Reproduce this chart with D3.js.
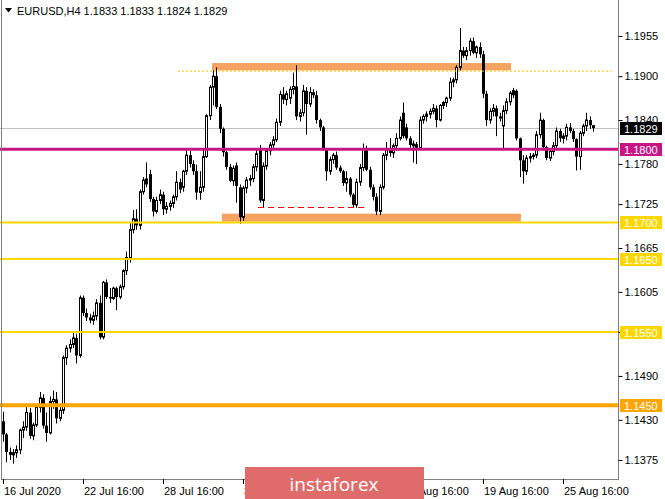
<!DOCTYPE html>
<html><head><meta charset="utf-8">
<script src="https://cdn.jsdelivr.net/npm/d3@7"></script>
<style>body{margin:0;background:#fff;} svg{display:block;font-family:"Liberation Sans",Arial,sans-serif;}</style>
</head><body><svg id="c" width="665" height="499"></svg>
<script>
const symbol = "EURUSD,H4";
const open = [
1.1428,1.1410,1.1386,1.1382,1.1385,1.1389,1.1416,1.1420,1.1440,1.1408,
1.1423,1.1447,1.1460,1.1422,1.1412,1.1455,1.1458,1.1432,1.1443,1.1515,
1.1528,1.1533,1.1542,1.1518,1.1597,1.1576,1.1570,1.1566,1.1572,1.1590,
1.1543,1.1618,1.1598,1.1596,1.1610,1.1598,1.1612,1.1634,1.1652,1.1690,
1.1705,1.1696,1.1742,1.1760,1.1766,1.1732,1.1715,1.1730,1.1738,1.1718,
1.1722,1.1726,1.1735,1.1755,1.1748,1.1770,1.1792,1.1780,1.1770,1.1741,
1.1748,1.1790,1.1846,1.1885,1.1900,1.1858,1.1828,1.1796,1.1776,1.1757,
1.1778,1.1748,1.1707,1.1747,1.1758,1.1760,1.1776,1.1800,1.1730,1.1777,
1.1798,1.1806,1.1813,1.1837,1.1875,1.1868,1.1870,1.1882,1.1886,1.1845,
1.1850,1.1880,1.1862,1.1878,1.1874,1.1840,1.1830,1.1800,1.1770,1.1786,
1.1792,1.1775,1.1770,1.1754,1.1760,1.1738,1.1724,1.1755,1.1775,1.1800,
1.1772,1.1748,1.1735,1.1715,1.1748,1.1792,1.1800,1.1795,1.1805,1.1815,
1.1850,1.1830,1.1815,1.1808,1.1807,1.1802,1.1840,1.1845,1.1848,1.1852,
1.1856,1.1840,1.1860,1.1864,1.1870,1.1892,1.1895,1.1912,1.1935,1.1928,
1.1935,1.1948,1.1932,1.1940,1.1930,1.1876,1.1840,1.1852,1.1856,1.1845,
1.1832,1.1853,1.1865,1.1881,1.1880,1.1815,1.1785,1.1770,1.1788,1.1790,
1.1792,1.1820,1.1840,1.1803,1.1788,1.1797,1.1805,1.1825,1.1815,1.1818,
1.1830,1.1825,1.1814,1.1790,1.1822,1.1832,1.1840,1.1833];
const high = [
1.1441,1.1412,1.1392,1.1390,1.1395,1.1418,1.1428,1.1450,1.1446,1.1426,
1.1450,1.1468,1.1465,1.1440,1.1462,1.1470,1.1468,1.1452,1.1518,1.1532,
1.1540,1.1550,1.1548,1.1600,1.1600,1.1582,1.1575,1.1578,1.1595,1.1600,
1.1620,1.1622,1.1610,1.1612,1.1612,1.1615,1.1636,1.1660,1.1700,1.1717,
1.1718,1.1745,1.1762,1.1782,1.1772,1.1735,1.1735,1.1745,1.1742,1.1728,
1.1730,1.1738,1.1770,1.1760,1.1772,1.1800,1.1798,1.1785,1.1779,1.1770,
1.1801,1.1848,1.1888,1.1908,1.1912,1.1862,1.1830,1.1798,1.1780,1.1778,
1.1782,1.1752,1.1750,1.1762,1.1765,1.1780,1.1800,1.1806,1.1782,1.1800,
1.1810,1.1818,1.1842,1.1880,1.1885,1.1880,1.1886,1.1905,1.1915,1.1855,
1.1888,1.1885,1.1885,1.1882,1.1880,1.1842,1.1832,1.1802,1.1790,1.1795,
1.1797,1.1778,1.1772,1.1770,1.1762,1.1740,1.1760,1.1780,1.1808,1.1805,
1.1776,1.1752,1.1740,1.1752,1.1795,1.1810,1.1815,1.1808,1.1822,1.1845,
1.1864,1.1835,1.1818,1.1812,1.1810,1.1845,1.1848,1.1852,1.1856,1.1862,
1.1860,1.1862,1.1866,1.1872,1.1898,1.1898,1.1915,1.1966,1.1940,1.1940,
1.1952,1.1953,1.1942,1.1946,1.1935,1.1880,1.1856,1.1862,1.1860,1.1850,
1.1860,1.1870,1.1880,1.1884,1.1882,1.1816,1.1792,1.1792,1.1795,1.1795,
1.1825,1.1850,1.1842,1.1805,1.1800,1.1810,1.1830,1.1828,1.1822,1.1835,
1.1836,1.1828,1.1815,1.1825,1.1835,1.1850,1.1845,1.1833];
const low = [
1.1400,1.1372,1.1375,1.1370,1.1378,1.1383,1.1405,1.1415,1.1404,1.1402,
1.1420,1.1440,1.1418,1.1400,1.1410,1.1445,1.1425,1.1428,1.1438,1.1505,
1.1522,1.1528,1.1507,1.1515,1.1572,1.1565,1.1562,1.1560,1.1566,1.1540,
1.1540,1.1595,1.1590,1.1594,1.1580,1.1595,1.1608,1.1628,1.1645,1.1685,
1.1690,1.1690,1.1738,1.1748,1.1728,1.1708,1.1712,1.1725,1.1710,1.1712,
1.1716,1.1720,1.1730,1.1740,1.1742,1.1765,1.1775,1.1765,1.1731,1.1731,
1.1742,1.1788,1.1840,1.1860,1.1855,1.1822,1.1790,1.1772,1.1755,1.1750,
1.1727,1.1698,1.1702,1.1740,1.1750,1.1755,1.1770,1.1727,1.1720,1.1772,
1.1792,1.1800,1.1810,1.1832,1.1862,1.1860,1.1862,1.1875,1.1840,1.1838,
1.1845,1.1820,1.1858,1.1870,1.1835,1.1825,1.1798,1.1757,1.1765,1.1780,
1.1772,1.1768,1.1750,1.1742,1.1735,1.1720,1.1720,1.1750,1.1770,1.1770,
1.1745,1.1730,1.1710,1.1710,1.1745,1.1785,1.1790,1.1788,1.1798,1.1812,
1.1815,1.1812,1.1802,1.1782,1.1780,1.1800,1.1835,1.1838,1.1842,1.1848,
1.1830,1.1838,1.1855,1.1858,1.1866,1.1885,1.1890,1.1908,1.1925,1.1922,
1.1928,1.1930,1.1925,1.1925,1.1870,1.1832,1.1835,1.1845,1.1818,1.1838,
1.1801,1.1848,1.1860,1.1870,1.1812,1.1762,1.1753,1.1765,1.1782,1.1786,
1.1788,1.1815,1.1800,1.1785,1.1784,1.1792,1.1800,1.1810,1.1808,1.1812,
1.1822,1.1810,1.1771,1.1772,1.1818,1.1825,1.1828,1.1824];
const close = [
1.1410,1.1386,1.1382,1.1385,1.1389,1.1416,1.1420,1.1440,1.1408,1.1423,
1.1447,1.1460,1.1422,1.1412,1.1455,1.1458,1.1432,1.1443,1.1515,1.1528,
1.1533,1.1542,1.1518,1.1597,1.1576,1.1570,1.1566,1.1572,1.1590,1.1543,
1.1618,1.1598,1.1596,1.1610,1.1598,1.1612,1.1634,1.1652,1.1690,1.1705,
1.1696,1.1742,1.1758,1.1752,1.1732,1.1715,1.1730,1.1738,1.1718,1.1722,
1.1726,1.1735,1.1755,1.1745,1.1770,1.1792,1.1780,1.1770,1.1741,1.1748,
1.1790,1.1846,1.1885,1.1900,1.1858,1.1828,1.1796,1.1776,1.1757,1.1774,
1.1750,1.1707,1.1747,1.1758,1.1760,1.1776,1.1794,1.1730,1.1777,1.1798,
1.1806,1.1813,1.1837,1.1875,1.1868,1.1876,1.1882,1.1886,1.1845,1.1850,
1.1880,1.1862,1.1878,1.1874,1.1840,1.1830,1.1800,1.1770,1.1786,1.1792,
1.1775,1.1770,1.1754,1.1760,1.1738,1.1724,1.1755,1.1775,1.1800,1.1772,
1.1748,1.1735,1.1715,1.1748,1.1792,1.1800,1.1795,1.1805,1.1815,1.1840,
1.1818,1.1815,1.1806,1.1804,1.1802,1.1840,1.1845,1.1848,1.1852,1.1856,
1.1840,1.1860,1.1864,1.1870,1.1892,1.1895,1.1912,1.1935,1.1928,1.1935,
1.1948,1.1932,1.1940,1.1930,1.1876,1.1840,1.1852,1.1856,1.1845,1.1842,
1.1853,1.1865,1.1877,1.1874,1.1815,1.1785,1.1770,1.1788,1.1790,1.1792,
1.1820,1.1840,1.1803,1.1788,1.1797,1.1805,1.1825,1.1815,1.1818,1.1830,
1.1825,1.1814,1.1790,1.1822,1.1832,1.1840,1.1833,1.1829];

const priceTicks = [1.1955,1.1900,1.1840,1.1780,1.1725,1.1665,1.1605,1.1550,1.1490,1.1430,1.1375];
const timeLabels = ["16 Jul 2020","22 Jul 16:00","28 Jul 16:00","3 Aug 16:00","7 Aug 16:00","13 Aug 16:00","19 Aug 16:00","25 Aug 16:00"];
const timeBars = [0,24,48,72,96,120,144,168];
const levelPrices = [1.1800,1.1700,1.1650,1.1550,1.1450];
const zoneHigh = [1.1918,1.1712];
const zoneLow = [1.1908,1.1701];
const zoneFrom = [62.7,65.7];
const zoneTo = [152.4,155.4];
const dottedPrice = 1.1907, dottedFrom = 52.5, dottedTo = 182.5;
const dashedPrice = 1.1721, dashedFrom = 76.5, dashedTo = 108.6;
const watermark = "instaforex";

const levelColor = ["#C71585","#FFD700","#FFD700","#FFD700","#FFA500"];
const levelWidth = [3,2,2,2,4];

const svg = d3.select("#c");
const x = d3.scaleLinear().domain([0,24]).range([3,83]);
const y = d3.scaleLinear().domain([1.1375,1.1955]).range([460,36]);
const PR = 618;   // plot right edge
const PB = 479;   // plot bottom edge

svg.append("rect").attr("width",665).attr("height",499).attr("fill","#fff");

// zones (background)
const zones = d3.range(zoneHigh.length);
svg.append("g").selectAll("rect").data(zones).join("rect")
  .attr("x", i => x(zoneFrom[i])).attr("width", i => x(zoneTo[i]) - x(zoneFrom[i]))
  .attr("y", i => y(zoneHigh[i])).attr("height", i => y(zoneLow[i]) - y(zoneHigh[i]))
  .attr("fill","#F4A460");

// current price line
const last = close.length - 1;
svg.append("line").attr("x1",0).attr("x2",PR).attr("y1",Math.round(y(close[last]))+0.5).attr("y2",Math.round(y(close[last]))+0.5)
  .attr("stroke","#c0c0c0").attr("stroke-width",1);

// candles
const bars = d3.range(open.length);
const cg = svg.append("g");
cg.selectAll("line").data(bars).join("line")
  .attr("x1", i => Math.round(x(i))+0.5).attr("x2", i => Math.round(x(i))+0.5)
  .attr("y1", i => y(high[i])).attr("y2", i => y(low[i]))
  .attr("stroke","#000").attr("stroke-width",1);
cg.selectAll("rect").data(bars).join("rect")
  .attr("x", i => close[i] >= open[i] ? Math.round(x(i))-0.5 : Math.round(x(i))-1)
  .attr("width", i => close[i] >= open[i] ? 2 : 3)
  .attr("y", i => y(Math.max(open[i],close[i])))
  .attr("height", i => Math.max(1, Math.abs(y(open[i]) - y(close[i]))))
  .attr("fill", i => close[i] >= open[i] ? "#fff" : "#000")
  .attr("stroke", i => close[i] >= open[i] ? "#000" : "none")
  .attr("stroke-width", 1);

// dotted & dashed lines
svg.append("line").attr("x1",x(dottedFrom)).attr("x2",x(dottedTo)).attr("y1",y(dottedPrice)).attr("y2",y(dottedPrice))
  .attr("stroke","#F5C400").attr("stroke-width",1).attr("stroke-dasharray","2,2");
svg.append("line").attr("x1",x(dashedFrom)).attr("x2",x(dashedTo)).attr("y1",Math.round(y(dashedPrice))+0.5).attr("y2",Math.round(y(dashedPrice))+0.5)
  .attr("stroke","#FF0000").attr("stroke-width",1).attr("stroke-dasharray","6,4");

// horizontal levels
const lv = d3.range(levelPrices.length);
svg.append("g").selectAll("line").data(lv).join("line")
  .attr("x1",0).attr("x2",PR).attr("y1", i => y(levelPrices[i])).attr("y2", i => y(levelPrices[i]))
  .attr("stroke", i => levelColor[i]).attr("stroke-width", i => levelWidth[i]);

// frame
svg.append("line").attr("x1",1.5).attr("x2",1.5).attr("y1",0).attr("y2",PB).attr("stroke","#808080");
svg.append("line").attr("x1",PR+0.5).attr("x2",PR+0.5).attr("y1",0).attr("y2",PB+1).attr("stroke","#808080");
svg.append("line").attr("x1",1).attr("x2",PR+1).attr("y1",PB+0.5).attr("y2",PB+0.5).attr("stroke","#808080");

// price axis
const yAxis = d3.axisRight(y).tickValues(priceTicks).tickFormat(d3.format(".4f")).tickSize(4).tickPadding(2);
const ya = svg.append("g").attr("transform",`translate(${PR+0.5},0)`).call(yAxis);
ya.select(".domain").remove();
ya.selectAll("line").attr("stroke","#000");
ya.selectAll("text").attr("font-size",11).attr("font-family","Liberation Sans, Arial, sans-serif").attr("fill","#000");

// time axis
const tg = svg.append("g");
tg.selectAll("line").data(timeBars).join("line")
  .attr("x1", d => Math.round(x(d))+0.5).attr("x2", d => Math.round(x(d))+0.5)
  .attr("y1",PB).attr("y2",PB+5).attr("stroke","#000");
tg.selectAll("text").data(timeLabels).join("text")
  .attr("x",(d,i) => Math.round(x(timeBars[i]))+1).attr("y",495)
  .attr("font-size",11).attr("fill","#000").text(d => d);

// level labels
const labPrices = [close[last]].concat(levelPrices);
const labColors = ["#000"].concat(levelColor);
const lg = svg.append("g");
lg.selectAll("rect").data(labPrices).join("rect")
  .attr("x",620).attr("width",42).attr("y", d => Math.round(y(d))-6).attr("height",13)
  .attr("fill",(d,i) => labColors[i]);
lg.selectAll("text").data(labPrices).join("text")
  .attr("x",624).attr("y", d => Math.round(y(d))+4.5)
  .attr("font-size",11).attr("fill","#fff").text(d => d.toFixed(4));

// title
svg.append("path").attr("d","M5,8 L12,8 L8.5,12.5 Z").attr("fill","#000");
svg.append("text").attr("x",17).attr("y",15).attr("font-size",11).attr("fill","#000")
  .text(`${symbol}  ${open[last].toFixed(4)} ${high[last].toFixed(4)} ${low[last].toFixed(4)} ${close[last].toFixed(4)}`);

// watermark
svg.append("rect").attr("x",245).attr("y",467).attr("width",179).attr("height",34).attr("fill","#E06B6B");
svg.append("text").attr("x",334).attr("y",491).attr("text-anchor","middle")
  .attr("font-family","Open Sans, Noto Sans, sans-serif").attr("font-size",19).attr("fill","#fff").text(watermark);
</script>
</body></html>
